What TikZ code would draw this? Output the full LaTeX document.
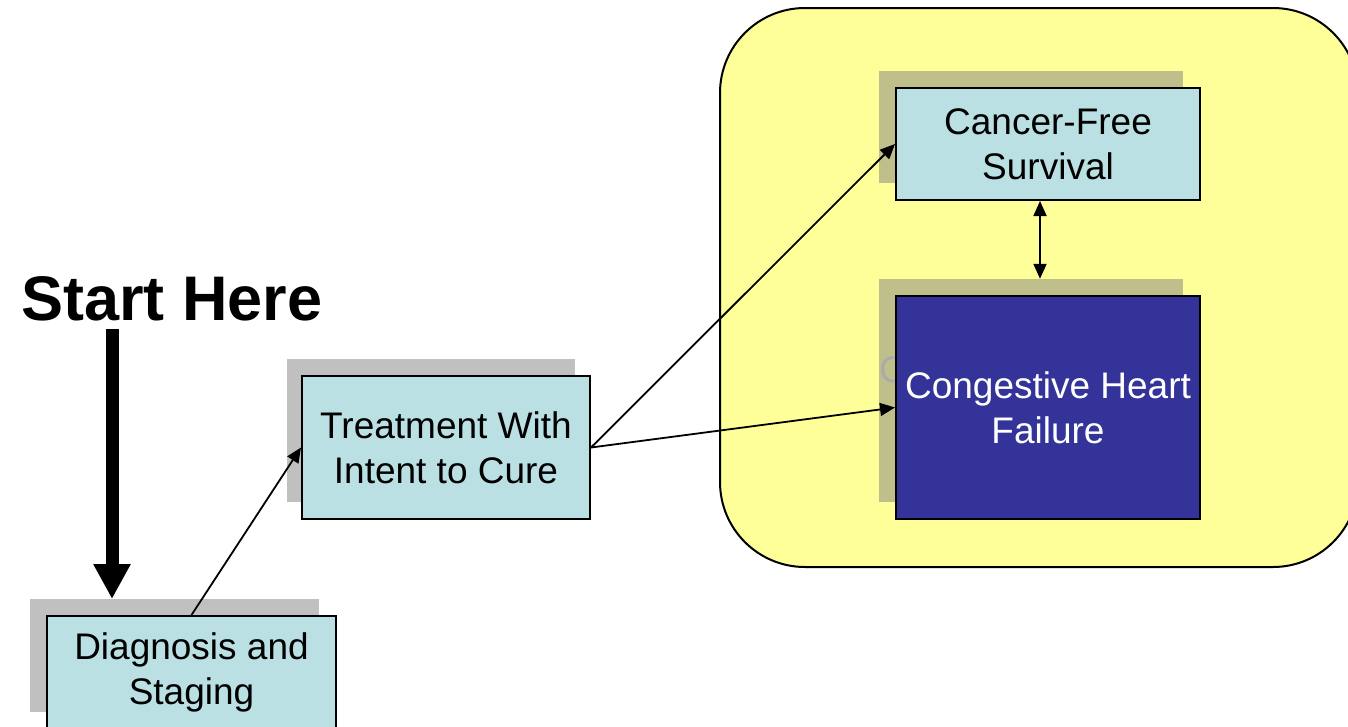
\documentclass[tikz,border=0pt]{standalone}
\usepackage{fontspec}
\setmainfont{Liberation Sans}
\usetikzlibrary{arrows.meta}

\definecolor{boxcyan}{RGB}{187,224,227}
\definecolor{chfblue}{RGB}{51,51,153}
\definecolor{noteyellow}{RGB}{255,255,153}
\definecolor{shadegray}{RGB}{192,192,192}
\definecolor{shadeolive}{RGB}{191,191,140}

\tikzset{
	stepbox/.style={draw=black, line width=2pt, fill=boxcyan, rectangle, align=center, inner sep=0pt, font=\fontsize{37}{45}\selectfont},
	chfbox/.style={stepbox, fill=chfblue, text=white},
	shadebox/.style={fill=shadegray, rectangle, inner sep=0pt},
	link/.style={-{Triangle[length=15pt, width=13pt]}, line width=1.8pt},
}

\begin{document}
\begin{tikzpicture}[x=1pt, y=-1pt]
	\useasboundingbox (0,0) rectangle (1348,726);
	\clip (0,0) rectangle (1348,726);
	
	% 结果区域
	\draw[fill=noteyellow, line width=2pt, rounded corners=85pt] (720,8) rectangle (1358,567);
	
	% 阴影
	\node[shadebox, minimum width=289pt, minimum height=113pt] (diagsh) at (174.5,655.5) {};
	\node[shadebox, minimum width=288pt, minimum height=143pt] (treatsh) at (431,430.5) {};
	\node[shadebox, fill=shadeolive, minimum width=304pt, minimum height=112pt] (cfsh) at (1031,127) {};
	\node[shadebox, fill=shadeolive, minimum width=304pt, minimum height=223pt] (chfsh) at (1031,390.5) {};
	\node[text=black!33, font=\fontsize{37}{45}\selectfont, inner sep=0pt, anchor=base west] (ghost) at (879,382) {C};
	
	% 方框
	\node[stepbox, minimum width=289pt, minimum height=113pt] (diag) at (191.5,672.5) {Diagnosis and\\Staging};
	\node[stepbox, minimum width=288pt, minimum height=143pt] (treat) at (446,447.5) {Treatment With\\Intent to Cure};
	\node[stepbox, minimum width=304pt, minimum height=112pt] (cf) at (1048,144) {Cancer-Free\\Survival};
	\node[chfbox, minimum width=304pt, minimum height=223pt] (chf) at (1048,407.5) {Congestive Heart\\Failure};
	
	% 起点
	\node[font=\bfseries\fontsize{63}{75}\selectfont, inner sep=0pt, anchor=base] (start) at (172,320) {Start Here};
	\coordinate (entry) at (112,599);
	\draw[line width=13pt, -{Triangle[length=35pt, width=35pt]}] ([yshift=-8pt]start.south -| entry) -- (entry);
	
	% 箭头
	\draw[link] (diag.north) -- (treat.west);
	\draw[link] (treat.east) -- (cf.west);
	\draw[link] (treat.east) -- (chf.west);
	\draw[link, {Triangle[length=15pt, width=13pt]}-{Triangle[length=15pt, width=13pt]}] ([xshift=-8pt]cf.south) -- ([xshift=-8pt]cf.south |- chfsh.north);
\end{tikzpicture}
\end{document}
